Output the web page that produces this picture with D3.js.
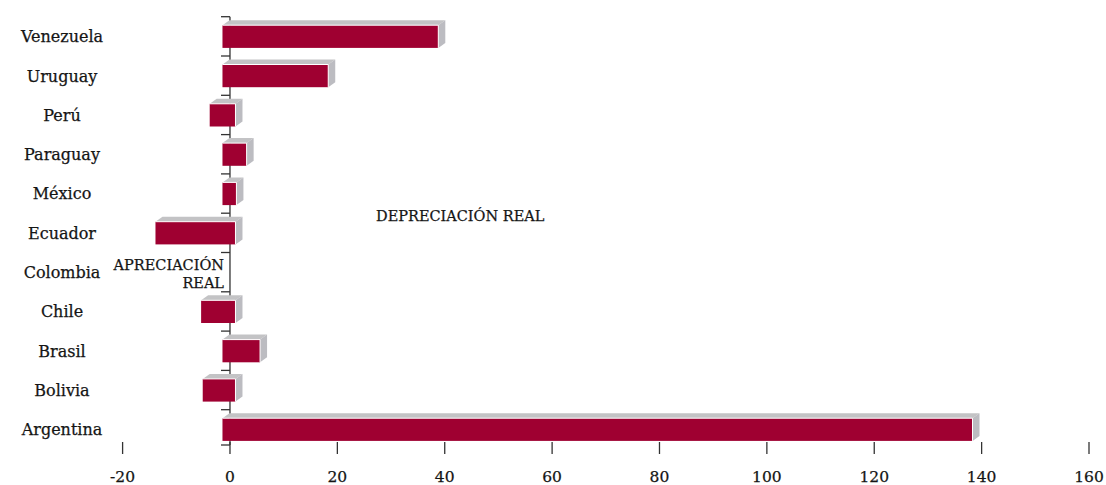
<!DOCTYPE html>
<html>
<head>
<meta charset="utf-8">
<script src="https://cdn.jsdelivr.net/npm/d3@7/dist/d3.min.js"></script>
<style>
  body { margin: 0; background: #fff; }
  svg text { font-family: "DejaVu Serif", serif; fill: #151515; stroke: #151515; stroke-width: 0.25px; }
</style>
</head>
<body>
<svg id="chart" width="1106" height="485"></svg>
<script>
// countries, top to bottom
var countries = ['Venezuela', 'Uruguay', 'Perú', 'Paraguay', 'México', 'Ecuador',
                 'Colombia', 'Chile', 'Brasil', 'Bolivia', 'Argentina'];
// real exchange rate change (%), Colombia has no bar
var values = [40.2, 19.7, -4.8, 4.5, 2.6, -14.9, null, -6.4, 7.0, -6.1, 139.7];
var xTicks = [-20, 0, 20, 40, 60, 80, 100, 120, 140, 160];
var notes = ['DEPRECIACIÓN REAL', 'APRECIACIÓN', 'REAL'];

var svg = d3.select('#chart');

var x = d3.scaleLinear().domain([-20, 160]).range([122.6, 1089]);
var y = d3.scaleBand().domain(countries).range([16.7, 449]).padding(0);

var depthX = 7, depthY = 5, barH = 22.7, barTop = 8.5;

// zero axis with category ticks
var x0 = x(0);
svg.append('line')
  .attr('x1', x0).attr('x2', x0)
  .attr('y1', y.range()[0]).attr('y2', 445)
  .attr('stroke', '#333').attr('stroke-width', 1.3);

var tickYs = countries.map(function(c) { return y(c); }).concat([445]);
svg.selectAll('.ytick').data(tickYs).join('line')
  .attr('class', 'ytick')
  .attr('x1', x0 - 9).attr('x2', x0)
  .attr('y1', function(d) { return d; }).attr('y2', function(d) { return d; })
  .attr('stroke', '#333').attr('stroke-width', 1.3);

// bars with a 3D look
var bars = countries.map(function(c, i) { return {name: c, v: values[i]}; })
  .filter(function(d) { return d.v !== null; });

var g = svg.selectAll('.bar').data(bars).join('g').attr('class', 'bar');

g.each(function(d) {
  var left, right;
  if (d.v >= 0) {
    left = x(0) - 7.5; right = x(d.v) - 7.5;
  } else {
    left = x(d.v) + 5.5; right = x(0) + 5.5;
  }
  var top = y(d.name) + barTop, bot = top + barH;
  var sel = d3.select(this);

  sel.append('polygon')
    .attr('points', [[left, top], [left + depthX, top - depthY],
                     [right + depthX, top - depthY], [right, top]].join(' '))
    .attr('fill', '#c3c3c5');
  sel.append('polygon')
    .attr('points', [[right, top], [right + depthX, top - depthY],
                     [right + depthX, bot - depthY], [right, bot]].join(' '))
    .attr('fill', '#bcbcc1');
  sel.append('rect')
    .attr('x', left).attr('y', top)
    .attr('width', right - left).attr('height', barH)
    .attr('fill', '#9f0031');
  sel.append('polyline')
    .attr('points', [[left, top], [right, top], [right, bot]].join(' '))
    .attr('fill', 'none').attr('stroke', '#fff').attr('stroke-width', 1);
});

// category labels
svg.selectAll('.ylab').data(countries).join('text')
  .attr('class', 'ylab')
  .attr('x', 62)
  .attr('y', function(d) { return y(d) + 25.5; })
  .attr('text-anchor', 'middle')
  .style('font-size', '16px')
  .text(function(d) { return d; });

// x axis ticks and labels
svg.selectAll('.xtick').data(xTicks).join('line')
  .attr('class', 'xtick')
  .attr('x1', function(d) { return x(d); }).attr('x2', function(d) { return x(d); })
  .attr('y1', 442).attr('y2', 454)
  .attr('stroke', '#333').attr('stroke-width', 1.3);

svg.selectAll('.xlab').data(xTicks).join('text')
  .attr('class', 'xlab')
  .attr('x', function(d) { return x(d); })
  .attr('y', 482)
  .attr('text-anchor', 'middle')
  .style('font-size', '15.5px')
  .text(function(d) { return d; });

// annotations
svg.append('text').attr('x', 376).attr('y', 221)
  .style('font-size', '14.5px').text(notes[0]);
svg.append('text').attr('x', 224).attr('y', 270).attr('text-anchor', 'end')
  .style('font-size', '14.5px').text(notes[1]);
svg.append('text').attr('x', 224).attr('y', 288).attr('text-anchor', 'end')
  .style('font-size', '14.5px').text(notes[2]);
</script>
</body>
</html>
